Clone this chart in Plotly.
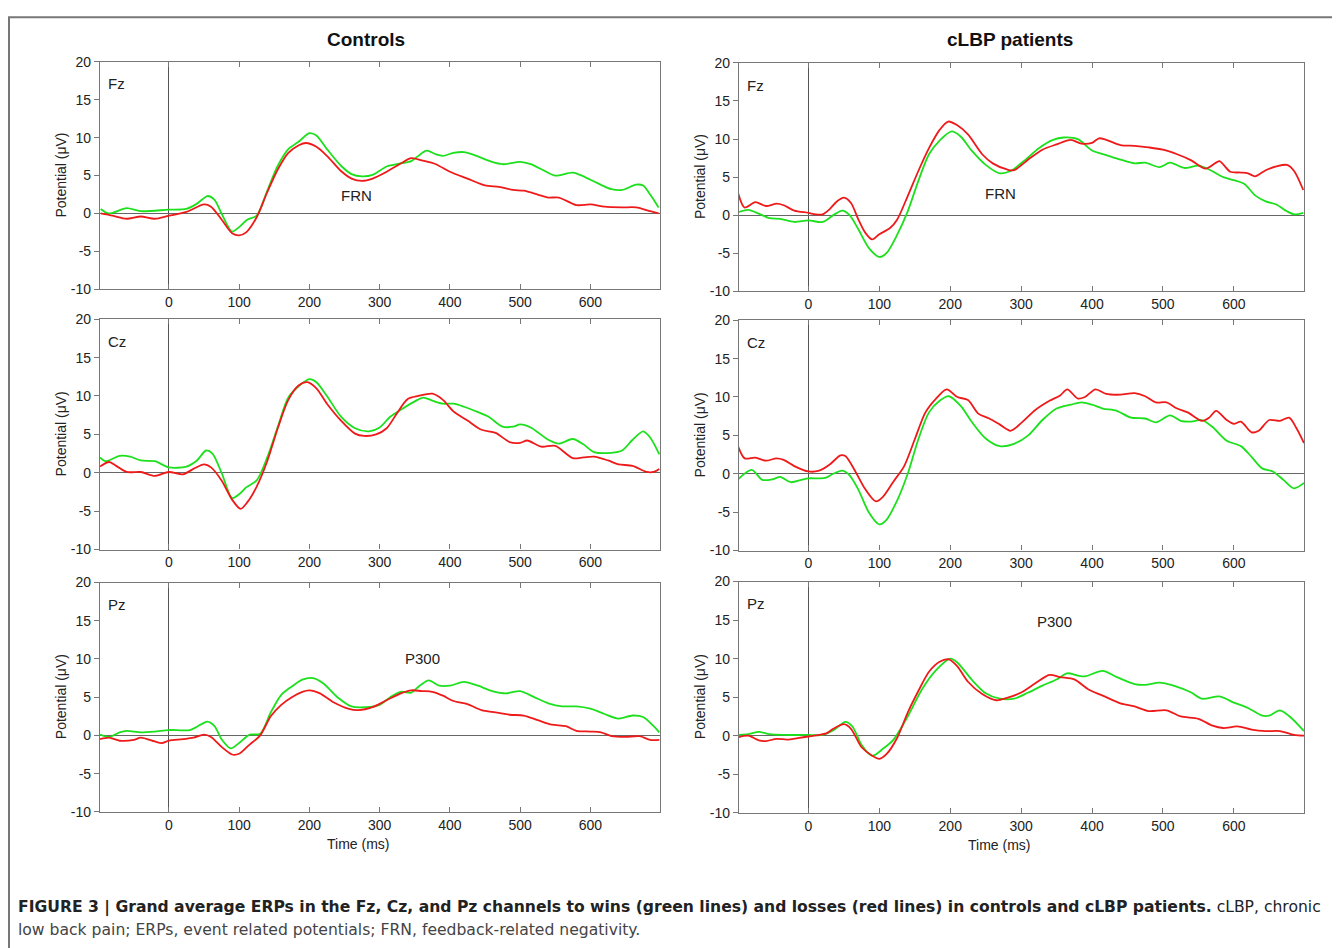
import plotly.graph_objects as go

# ---------------- data (ms, µV) ----------------
ctrl_fz_win_t = [-97, -85, -60, -40, 0, 25, 40, 55, 65, 75, 90, 100, 112, 125, 140, 155, 170, 185, 200, 210, 225, 245, 260, 275, 290, 310, 330, 345, 355, 367, 380, 390, 405, 420, 435, 460, 475, 500, 515, 535, 550, 575, 590, 610, 630, 645, 665, 675, 685, 697]
ctrl_fz_win = [0.6, 0.0, 0.7, 0.3, 0.5, 0.6, 1.3, 2.3, 1.8, 0.0, -2.4, -1.8, -0.8, -0.3, 3.0, 6.3, 8.5, 9.5, 10.6, 10.3, 8.5, 6.3, 5.2, 4.9, 5.1, 6.2, 6.6, 6.9, 7.6, 8.3, 7.8, 7.6, 8.0, 8.1, 7.7, 6.8, 6.5, 6.8, 6.5, 5.6, 5.0, 5.4, 4.9, 4.0, 3.2, 3.1, 3.8, 3.7, 2.5, 0.8]
ctrl_fz_loss_t = [-97, -80, -60, -40, -20, 0, 25, 50, 60, 75, 90, 100, 110, 125, 140, 155, 170, 185, 195, 210, 225, 245, 260, 275, 290, 310, 330, 345, 360, 380, 400, 425, 450, 470, 490, 505, 525, 540, 555, 580, 600, 620, 645, 665, 685, 697]
ctrl_fz_loss = [0.0, -0.3, -0.7, -0.4, -0.7, -0.3, 0.2, 1.2, 0.9, -0.8, -2.6, -2.9, -2.5, -0.5, 2.8, 5.8, 8.0, 9.0, 9.3, 8.8, 7.6, 5.6, 4.6, 4.3, 4.6, 5.5, 6.6, 7.3, 7.0, 6.5, 5.5, 4.6, 3.7, 3.5, 3.1, 3.0, 2.5, 2.1, 2.1, 1.1, 1.2, 0.9, 0.8, 0.8, 0.3, 0.0]

ctrl_cz_win_t = [-98, -90, -70, -55, -40, -20, 0, 25, 40, 53, 62, 75, 90, 100, 110, 125, 140, 155, 170, 185, 200, 210, 225, 245, 265, 285, 300, 315, 330, 350, 362, 375, 390, 405, 420, 440, 455, 475, 490, 500, 515, 540, 555, 575, 590, 605, 630, 645, 660, 675, 685, 698]
ctrl_cz_win = [2.0, 1.5, 2.2, 2.1, 1.6, 1.5, 0.7, 0.8, 1.6, 2.9, 2.5, 0.0, -3.3, -2.8, -1.9, -1.0, 2.0, 6.0, 9.8, 11.3, 12.2, 11.8, 10.0, 7.3, 5.8, 5.4, 5.9, 7.3, 8.2, 9.3, 9.8, 9.4, 9.0, 9.0, 8.6, 7.9, 7.3, 6.0, 6.0, 6.3, 5.9, 4.3, 3.8, 4.4, 3.7, 2.7, 2.6, 2.9, 4.3, 5.4, 4.6, 2.4]
ctrl_cz_loss_t = [-98, -85, -75, -60, -40, -20, 0, 20, 35, 50, 60, 75, 90, 102, 112, 125, 140, 155, 170, 185, 197, 210, 225, 245, 265, 278, 295, 310, 325, 340, 355, 375, 390, 405, 425, 445, 465, 485, 500, 510, 530, 550, 575, 590, 605, 625, 640, 660, 680, 690, 698]
ctrl_cz_loss = [0.8, 1.4, 0.9, 0.1, 0.1, -0.4, 0.1, -0.2, 0.5, 1.1, 0.7, -1.0, -3.5, -4.7, -3.8, -1.8, 1.5, 5.8, 9.5, 11.4, 11.8, 11.0, 9.0, 6.8, 5.1, 4.8, 5.0, 5.8, 7.8, 9.6, 10.0, 10.3, 9.5, 8.0, 6.8, 5.6, 5.2, 4.0, 3.9, 4.2, 3.4, 3.5, 1.9, 2.0, 2.1, 1.6, 1.1, 0.9, 0.1, 0.1, 0.5]

ctrl_pz_win_t = [-98, -85, -70, -60, -40, -20, 0, 30, 45, 55, 65, 75, 88, 100, 115, 130, 145, 160, 175, 190, 205, 220, 240, 260, 280, 300, 315, 330, 345, 357, 370, 385, 400, 420, 440, 460, 480, 500, 520, 540, 560, 580, 600, 620, 640, 660, 675, 690, 698]
ctrl_pz_win = [0.1, -0.2, 0.4, 0.6, 0.4, 0.5, 0.7, 0.7, 1.4, 1.8, 1.2, -0.5, -1.7, -1.0, 0.1, 0.2, 3.0, 5.3, 6.4, 7.3, 7.5, 6.8, 5.0, 3.8, 3.7, 4.0, 5.0, 5.7, 5.6, 6.5, 7.2, 6.5, 6.5, 7.0, 6.5, 5.8, 5.5, 5.8, 5.0, 4.2, 3.8, 3.8, 3.5, 2.8, 2.2, 2.6, 2.4, 1.2, 0.4]
ctrl_pz_loss_t = [-98, -85, -70, -50, -40, -20, -10, 0, 20, 35, 50, 60, 75, 90, 100, 115, 130, 145, 160, 175, 190, 200, 215, 235, 255, 270, 290, 310, 330, 345, 360, 375, 390, 405, 425, 445, 465, 485, 505, 525, 545, 565, 580, 600, 615, 630, 650, 670, 685, 698]
ctrl_pz_loss = [-0.5, -0.3, -0.7, -0.6, -0.3, -0.8, -1.0, -0.7, -0.5, -0.3, 0.1, -0.2, -1.5, -2.5, -2.4, -1.2, 0.0, 2.5, 4.0, 5.0, 5.7, 5.9, 5.5, 4.3, 3.5, 3.3, 3.7, 4.6, 5.5, 5.9, 5.8, 5.7, 5.2, 4.5, 4.1, 3.3, 3.0, 2.7, 2.6, 2.0, 1.4, 1.2, 0.6, 0.5, 0.4, -0.1, -0.2, -0.1, -0.6, -0.6]

pat_fz_win_t = [-99, -85, -70, -55, -40, -20, 0, 20, 35, 48, 58, 70, 85, 100, 110, 125, 140, 155, 170, 185, 202, 215, 230, 250, 270, 285, 305, 325, 345, 360, 380, 400, 420, 440, 460, 475, 495, 510, 530, 550, 565, 585, 600, 615, 630, 645, 660, 675, 685, 698]
pat_fz_win = [0.4, 0.7, 0.2, -0.4, -0.5, -0.9, -0.7, -0.9, 0.0, 0.6, 0.0, -1.8, -4.3, -5.5, -5.0, -2.6, 0.5, 4.5, 8.0, 9.8, 11.0, 10.3, 8.5, 6.6, 5.5, 5.8, 7.2, 8.8, 9.9, 10.2, 10.0, 8.5, 7.9, 7.3, 6.8, 6.9, 6.3, 6.9, 6.2, 6.5, 6.0, 5.0, 4.6, 4.1, 2.6, 1.8, 1.4, 0.5, 0.1, 0.3]
pat_fz_loss_t = [-99, -90, -75, -60, -45, -35, -20, 0, 10, 20, 30, 40, 50, 60, 70, 80, 90, 100, 115, 125, 140, 155, 170, 185, 197, 210, 225, 245, 260, 280, 290, 310, 330, 350, 370, 385, 400, 410, 420, 440, 460, 480, 500, 520, 540, 560, 575, 580, 595, 610, 620, 630, 645, 660, 675, 685, 698]
pat_fz_loss = [2.8, 1.0, 1.7, 1.2, 1.5, 1.3, 0.6, 0.3, 0.1, 0.1, 0.8, 1.8, 2.3, 1.6, -0.5, -2.3, -3.2, -2.5, -1.7, -0.6, 2.5, 5.8, 8.8, 11.2, 12.3, 11.8, 10.6, 8.0, 6.8, 6.0, 5.9, 7.3, 8.6, 9.3, 9.9, 9.4, 9.5, 10.1, 9.9, 9.2, 9.1, 8.9, 8.6, 8.0, 7.2, 6.1, 6.9, 7.1, 5.7, 5.6, 5.5, 5.1, 5.9, 6.4, 6.6, 5.8, 3.3]

pat_cz_win_t = [-99, -80, -65, -50, -40, -25, -10, 0, 15, 25, 35, 48, 58, 70, 85, 100, 110, 125, 140, 155, 170, 185, 198, 215, 230, 250, 270, 290, 310, 330, 350, 370, 385, 400, 415, 435, 455, 475, 490, 510, 525, 540, 555, 570, 590, 610, 625, 640, 655, 670, 685, 699]
pat_cz_win = [-0.7, 0.5, -0.8, -0.7, -0.4, -1.1, -0.8, -0.6, -0.6, -0.5, 0.0, 0.4, -0.2, -2.0, -5.0, -6.6, -6.0, -3.5, 0.0, 4.5, 8.0, 9.5, 10.1, 8.8, 6.8, 4.6, 3.6, 3.9, 5.0, 7.0, 8.5, 9.0, 9.3, 9.0, 8.5, 8.2, 7.3, 7.2, 6.7, 7.6, 6.9, 6.8, 7.0, 6.1, 4.3, 3.6, 2.2, 0.7, 0.3, -0.8, -1.9, -1.2]
pat_cz_loss_t = [-99, -90, -75, -60, -45, -35, -20, 0, 15, 30, 45, 52, 65, 80, 95, 105, 120, 135, 150, 165, 180, 195, 210, 225, 240, 255, 270, 285, 300, 320, 340, 355, 365, 380, 390, 405, 420, 440, 460, 475, 490, 505, 520, 535, 555, 565, 575, 590, 600, 610, 625, 635, 650, 665, 678, 688, 699]
pat_cz_loss = [3.5, 2.0, 2.1, 1.7, 2.0, 1.8, 1.0, 0.3, 0.4, 1.2, 2.4, 2.3, 0.5, -2.0, -3.6, -3.0, -1.0, 1.0, 4.5, 8.0, 9.8, 11.0, 10.0, 9.6, 7.8, 7.2, 6.4, 5.6, 6.6, 8.3, 9.5, 10.2, 11.0, 9.8, 10.0, 11.0, 10.4, 10.3, 10.5, 10.1, 9.3, 9.3, 8.5, 8.0, 6.9, 7.3, 8.2, 7.0, 6.5, 6.8, 5.4, 5.6, 7.0, 6.9, 7.3, 6.0, 4.0]

pat_pz_win_t = [-99, -85, -70, -55, -35, -10, 0, 20, 35, 52, 62, 75, 90, 105, 120, 140, 160, 180, 200, 210, 230, 250, 270, 290, 310, 330, 350, 365, 380, 390, 415, 435, 460, 475, 495, 515, 540, 555, 580, 600, 620, 640, 650, 665, 680, 699]
pat_pz_win = [0.1, 0.2, 0.5, 0.2, 0.1, 0.1, 0.1, 0.1, 0.7, 1.8, 1.2, -1.2, -2.6, -1.7, -0.5, 2.5, 6.0, 8.5, 10.0, 9.5, 7.3, 5.5, 4.8, 4.8, 5.6, 6.5, 7.3, 8.1, 7.8, 7.7, 8.4, 7.6, 6.7, 6.6, 6.9, 6.5, 5.6, 4.8, 5.1, 4.3, 3.6, 2.6, 2.6, 3.3, 2.4, 0.6]
pat_pz_loss_t = [-99, -85, -70, -60, -45, -30, -15, 0, 15, 25, 35, 50, 60, 75, 90, 100, 110, 125, 140, 155, 170, 185, 198, 210, 225, 245, 265, 280, 300, 320, 340, 355, 375, 395, 415, 440, 460, 480, 505, 525, 550, 570, 585, 605, 625, 645, 665, 685, 699]
pat_pz_loss = [-0.2, 0.0, -0.6, -0.7, -0.4, -0.5, -0.3, -0.1, 0.1, 0.3, 0.9, 1.5, 0.9, -1.5, -2.6, -3.0, -2.4, -0.3, 3.0, 5.8, 8.3, 9.6, 9.9, 9.0, 7.0, 5.4, 4.6, 4.9, 5.6, 6.8, 7.9, 7.6, 7.3, 6.0, 5.2, 4.2, 3.8, 3.2, 3.3, 2.5, 2.2, 1.3, 1.0, 1.2, 0.8, 0.6, 0.6, 0.1, 0.0]

x_tick_vals = [0, 100, 200, 300, 400, 500, 600]
y_tick_vals = [20, 15, 10, 5, 0, -5, -10]
y_tick_text = ["20", "15", "10", "5", "0", "-5", "-10"]
channels = ["Fz", "Cz", "Pz"]
groups = ["Controls", "cLBP patients"]

panels = [
    # (col, row, win_t, win, loss_t, loss)
    (0, 0, ctrl_fz_win_t, ctrl_fz_win, ctrl_fz_loss_t, ctrl_fz_loss),
    (0, 1, ctrl_cz_win_t, ctrl_cz_win, ctrl_cz_loss_t, ctrl_cz_loss),
    (0, 2, ctrl_pz_win_t, ctrl_pz_win, ctrl_pz_loss_t, ctrl_pz_loss),
    (1, 0, pat_fz_win_t, pat_fz_win, pat_fz_loss_t, pat_fz_loss),
    (1, 1, pat_cz_win_t, pat_cz_win, pat_cz_loss_t, pat_cz_loss),
    (1, 2, pat_pz_win_t, pat_pz_win, pat_pz_loss_t, pat_pz_loss),
]

# ---------------- layout geometry ----------------
XOFF = 8
W, H = 1340 - 2 * XOFF, 948
# calibrated mapping from target picture rows to figure rows
Y0, YS = 16.1, 0.982


def px(xp):
    return (xp - XOFF) / W


def py(yp):
    return 1 - ((yp - Y0) / YS) / H


col_px = [(100, 660), (739, 1304)]
row_px = [[(62, 289), (319, 549), (582, 811)],
          [(63, 291), (320, 550), (581, 812)]]
X_RANGE = [-98, 699]
Y_RANGE = [-10, 20]

GREEN = "#1de01d"
RED = "#ee1a1a"
AXC = "#777777"
FONT = "Liberation Sans, Arial, sans-serif"
CAPFONT = "DejaVu Sans, sans-serif"

fig = go.Figure()
layout = dict(width=W, height=H, margin=dict(l=0, r=0, t=0, b=0),
              paper_bgcolor="white", plot_bgcolor="white", showlegend=False,
              font=dict(family=FONT, color="#222222", size=14))
annotations = []

for i, (c, r, wt, wv, lt, lv) in enumerate(panels):
    n = i + 1
    xa = "x" if n == 1 else f"x{n}"
    ya = "y" if n == 1 else f"y{n}"
    yr_name = f"yaxis{6 + n}"
    x0, x1 = col_px[c]
    y0, y1 = row_px[c][r]
    xdom = [px(x0), px(x1)]
    ydom = [py(y1), py(y0)]
    xkey = "xaxis" if n == 1 else f"xaxis{n}"
    ykey = "yaxis" if n == 1 else f"yaxis{n}"
    layout[xkey] = dict(domain=xdom, range=X_RANGE, anchor=ya, tickvals=x_tick_vals,
                        ticks="inside", ticklen=5, tickcolor=AXC, mirror="ticks",
                        showline=True, linecolor=AXC, linewidth=1.2, showgrid=False,
                        zeroline=True, zerolinecolor="#555555", zerolinewidth=1,
                        tickfont=dict(size=14, family=FONT, color="#222222"))
    layout[ykey] = dict(domain=ydom, range=Y_RANGE, anchor=xa, tickvals=y_tick_vals,
                        ticktext=y_tick_text, ticks="outside", ticklen=5, tickcolor=AXC,
                        mirror=True, showline=True, linecolor=AXC, linewidth=1.2,
                        showgrid=False, zeroline=True, zerolinecolor="#666666",
                        zerolinewidth=1.2,
                        tickfont=dict(size=14, family=FONT, color="#222222"))
    # right-side inner ticks
    layout[yr_name] = dict(domain=ydom, range=Y_RANGE, anchor=xa, overlaying=ya,
                           side="right", tickvals=y_tick_vals, ticks="inside", ticklen=5,
                           tickcolor=AXC, showticklabels=False, showline=False,
                           showgrid=False, zeroline=False)
    fig.add_trace(go.Scatter(x=wt, y=wv, mode="lines", xaxis=xa, yaxis=ya,
                             line=dict(color=GREEN, width=1.8, shape="spline", smoothing=0.8)))
    fig.add_trace(go.Scatter(x=lt, y=lv, mode="lines", xaxis=xa, yaxis=ya,
                             line=dict(color=RED, width=1.8, shape="spline", smoothing=0.8)))
    # channel label
    annotations.append(dict(text=channels[r], x=-90, y=17.1, xref=xa, yref=ya,
                            xanchor="left", yanchor="middle", showarrow=False,
                            font=dict(size=15, family=FONT, color="#222222")))
    # y axis title
    annotations.append(dict(text="Potential (μV)", textangle=-90,
                            x=px(x0 - 39), y=py((y0 + y1) / 2),
                            xref="paper", yref="paper", showarrow=False,
                            xanchor="center", yanchor="middle",
                            font=dict(size=14, family=FONT, color="#222222")))
    if r == 2:
        annotations.append(dict(text="Time (ms)", x=px(x0 + 0.46 * (x1 - x0)),
                                y=py(y1 + 32), xref="paper", yref="paper",
                                showarrow=False, xanchor="center", yanchor="middle",
                                font=dict(size=14, family=FONT, color="#222222")))
    if r == 0:
        annotations.append(dict(text="<b>" + groups[c] + "</b>",
                                x=px((x0 + x1) / 2 + (-14 if c == 0 else -12)),
                                y=py(40), xref="paper", yref="paper", showarrow=False,
                                xanchor="center", yanchor="middle",
                                font=dict(size=19, family=FONT, color="#111111")))

# component labels
lab_font = dict(size=15, family=FONT, color="#222222")
annotations.append(dict(text="FRN", x=267, y=2.4, xref="x", yref="y", showarrow=False, font=lab_font))
annotations.append(dict(text="FRN", x=271, y=2.9, xref="x4", yref="y4", showarrow=False, font=lab_font))
annotations.append(dict(text="P300", x=361, y=10.1, xref="x3", yref="y3", showarrow=False, font=lab_font))
annotations.append(dict(text="P300", x=347, y=14.8, xref="x6", yref="y6", showarrow=False, font=lab_font))

# caption
annotations.append(dict(
    text="<b>FIGURE 3 | Grand average ERPs in the Fz, Cz, and Pz channels to wins (green lines) and losses (red lines) in controls and cLBP patients.</b> cLBP, chronic",
    x=px(16), y=py(907), xref="paper", yref="paper", showarrow=False,
    xanchor="left", yanchor="middle", font=dict(size=15.6, family=CAPFONT, color="#222222")))
annotations.append(dict(
    text="low back pain; ERPs, event related potentials; FRN, feedback-related negativity.",
    x=px(16), y=py(929), xref="paper", yref="paper", showarrow=False,
    xanchor="left", yanchor="middle", font=dict(size=15.6, family=CAPFONT, color="#444444")))

layout["annotations"] = annotations
layout["shapes"] = [dict(type="rect", xref="paper", yref="paper",
                         x0=px(9), x1=1.02, y0=-0.02, y1=1 - 1.2 / H,
                         line=dict(color="#777777", width=2))]
fig.update_layout(**layout)
fig.write_html("out.html")
